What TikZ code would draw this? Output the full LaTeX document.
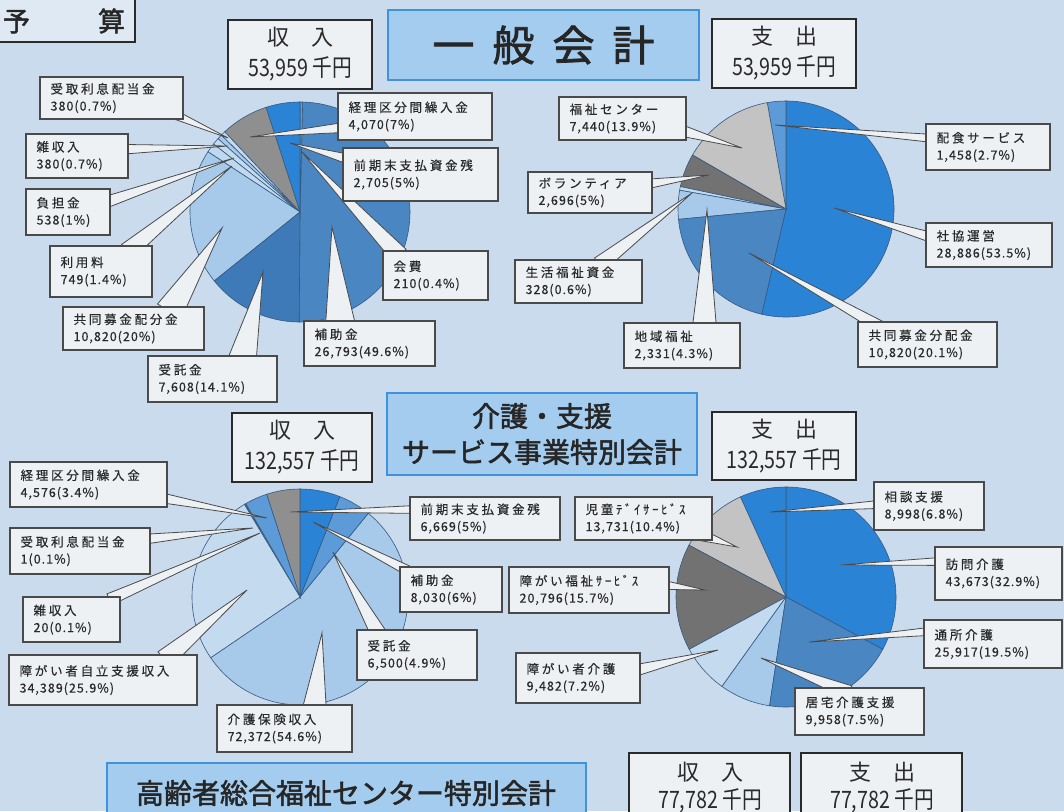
\documentclass[tikz,border=0pt]{standalone}
\usepackage{fontspec}
\setmainfont{Noto Sans CJK JP}
\newfontfamily\jpk[LetterSpace=22,FakeBold=0.4]{Noto Sans CJK JP}
\newfontfamily\jpl[LetterSpace=8,FakeBold=0.4]{Noto Sans CJK JP}
\newfontfamily\jpn[FakeStretch=0.82]{Noto Sans CJK JP}
\newfontfamily\jpb[FakeBold=1.8]{Noto Sans CJK JP}
\usetikzlibrary{calc,fit}
\pgfdeclarelayer{bg}\pgfdeclarelayer{pie}\pgfdeclarelayer{wdg}
\pgfsetlayers{bg,pie,wdg,main}
\definecolor{bgc}{HTML}{C9DBEC}
\definecolor{boxf}{HTML}{EEF1F4}
\definecolor{boxd}{HTML}{4A4A4A}
\definecolor{hdrd}{HTML}{2A2A2A}
\definecolor{ttlf}{HTML}{A3CCEF}
\definecolor{ttld}{HTML}{3F93DC}
\definecolor{bbright}{HTML}{2B83D6}
\definecolor{bsteel}{HTML}{4A86C2}
\definecolor{bdark}{HTML}{3E7AB8}
\definecolor{bmed}{HTML}{5C9BD8}
\definecolor{blight}{HTML}{A7C9EA}
\definecolor{bvlight}{HTML}{C4DAEF}
\definecolor{gmid}{HTML}{8F8F8F}
\definecolor{gdark}{HTML}{727272}
\definecolor{glight}{HTML}{C3C3C3}
\definecolor{sliceline}{HTML}{35597F}
\definecolor{txt}{HTML}{2A2A2A}
\newcommand{\pieslice}[5]{\filldraw[pc,fill=#5] (#1) -- ++(#3:#2pt) arc[start angle=#3,end angle=#4,radius=#2pt] -- cycle;}
\newcommand{\labbox}[7]{%
  \node[lbl,fit={(#2,#3) (#4,#5)}] (#1) {};
  \node[ltxt] (#1t) at ($(#1.west)+(11,0)$) {{\jpk #6}\\{\jpl #7}};}
\newcommand{\pointer}[4]{%
  \coordinate (#1b) at ($(#1.north west)+(#2)$);
  \filldraw[wdgs] ($(#1b)!#4pt!90:(#3)$) -- (#3) -- ($(#1b)!#4pt!-90:(#3)$) -- cycle;}
\newcommand{\hdrbox}[7]{%
  \node[hdr,fit={(#2,#3) (#4,#5)}] (#1) {};
  \node[htxt] (#1t) at (#1.center) {{#6}\\[7pt]{\jpn\fontsize{24}{26}\selectfont #7}};}
\begin{document}
\begin{tikzpicture}[x=1pt,y=-1pt,
  lbl/.style={draw=boxd,fill=boxf,line width=1.2pt,inner sep=0pt},
  ltxt/.style={anchor=west,align=left,inner sep=0pt,text=txt,font=\fontsize{12.5}{17}\selectfont},
  hdr/.style={draw=hdrd,fill=boxf,line width=2pt,inner sep=0pt},
  htxt/.style={align=center,inner sep=0pt,text=txt,font=\fontsize{22}{24}\selectfont},
  ttl/.style={draw=ttld,fill=ttlf,line width=2pt,inner sep=0pt},
  ttxt/.style={align=center,inner sep=0pt,text=black!85},
  wdgs/.style={fill=boxf,draw=boxd,line width=0.8pt},
  pc/.style={draw=sliceline,line width=0.6pt}]
\useasboundingbox (0,0) rectangle (1064,811);
\clip (0,0) rectangle (1064,811);
\begin{pgfonlayer}{bg}
\fill[bgc] (0,0) rectangle (1064,811);
\end{pgfonlayer}
% centres and tips
\coordinate (c1) at (300,212);
\coordinate (c2) at (786,209);
\coordinate (c3) at (300,597);
\coordinate (c4) at (786,597);
\foreach \n/\x/\y in {t1a/228/138,t1b/228/146,t1c/234/158,t1d/232/166,t1e/222/228,t1f/263/272,t1g/332/227,t1h/302/152,t1i/250/137,t1j/290/143,
 t2a/742/148,t2b/775/125,t2c/709/175,t2d/692/193,t2e/707/210,t2f/834/208,t2g/749/253,
 t3a/267/518,t3b/253/528,t3c/260/533,t3d/247/590,t3e/322/633,t3f/333/552,t3g/313/522,t3h/290/512,
 t4a/737/547,t4b/705/590,t4c/718/650,t4d/761/658,t4e/809/642,t4f/840/565,t4g/770/512}
 {\coordinate (\n) at (\x,\y);}
\begin{pgfonlayer}{pie}
% chart 1
\pieslice{c1}{110}{-90.4}{88.6}{bsteel}
\pieslice{c1}{110}{88.6}{90}{bmed}
\pieslice{c1}{110}{90}{108}{bbright}
\pieslice{c1}{110}{108}{133.2}{gmid}
\pieslice{c1}{110}{133.2}{135.7}{bvlight}
\pieslice{c1}{110}{135.7}{138.2}{blight}
\pieslice{c1}{110}{138.2}{141.8}{bvlight}
\pieslice{c1}{110}{141.8}{146.8}{blight!70!white}
\pieslice{c1}{110}{146.8}{218.8}{blight}
\pieslice{c1}{110}{218.8}{269.6}{bdark}
% chart 2
\pieslice{c2}{108}{-103}{90}{bbright}
\pieslice{c2}{108}{90}{100}{bmed}
\pieslice{c2}{108}{100}{150}{glight}
\pieslice{c2}{108}{150}{168}{gdark}
\pieslice{c2}{108}{168}{170}{bvlight}
\pieslice{c2}{108}{170}{185.5}{blight}
\pieslice{c2}{108}{185.5}{257}{bsteel}
% chart 3
\pieslice{c3}{108}{-145.8}{50.8}{blight}
\pieslice{c3}{108}{50.8}{68.4}{bmed}
\pieslice{c3}{108}{68.4}{90}{bbright}
\pieslice{c3}{108}{90}{108}{gmid}
\pieslice{c3}{108}{108}{120.2}{bmed}
\pieslice{c3}{108}{120.2}{120.6}{bvlight}
\pieslice{c3}{108}{120.6}{121}{bvlight}
\pieslice{c3}{108}{121}{214.2}{bvlight}
% chart 4
\pieslice{c4}{110}{-28.4}{90}{bbright}
\pieslice{c4}{110}{90}{114.5}{bbright}
\pieslice{c4}{110}{114.5}{151.9}{glight}
\pieslice{c4}{110}{151.9}{208.4}{gdark}
\pieslice{c4}{110}{208.4}{234.4}{bvlight}
\pieslice{c4}{110}{234.4}{261.4}{blight}
\pieslice{c4}{110}{261.4}{331.6}{bsteel}
\end{pgfonlayer}
% title boxes
\node[hdr,fill=bgc!60!white,fit={(-6,-6) (135,42)}] (yosan) {};
\node[ttxt,font=\jpb\fontsize{27}{30}\selectfont] (yosant) at (64,21) {予\hspace{68pt}算};
\node[ttl,fit={(388,10) (699,80)}] (ttl1) {};
\node[ttxt,font=\jpb\fontsize{42}{44}\selectfont] (ttl1t) at (ttl1.center) {一\hspace{18pt}般\hspace{18pt}会\hspace{18pt}計};
\node[ttl,fit={(387,393) (697,475)}] (ttl2) {};
\node[ttxt,font=\jpb\fontsize{28}{36}\selectfont] (ttl2t) at (ttl2.center) {介護・支援\\サービス事業特別会計};
\node[ttl,fit={(107,763) (586,830)}] (ttl3) {};
\node[ttxt,font=\jpb\fontsize{28}{36}\selectfont] (ttl3t) at (346,793) {高齢者総合福祉センター特別会計};
% header boxes
\hdrbox{h1}{228}{20}{372}{89}{収　入}{53,959 千円}
\hdrbox{h2}{712}{19}{856}{88}{支　出}{53,959 千円}
\hdrbox{h3}{232}{413}{372}{482}{収　入}{132,557 千円}
\hdrbox{h4}{712}{412}{856}{480}{支　出}{132,557 千円}
\node[hdr,fit={(629,753) (790,818)}] (h5) {};
\node[htxt] (h5t) at (710,788) {{収　入}\\[4pt]{\jpn\fontsize{24}{26}\selectfont 77,782 千円}};
\node[hdr,fit={(801,753) (962,818)}] (h6) {};
\node[htxt] (h6t) at (882,788) {{支　出}\\[4pt]{\jpn\fontsize{24}{26}\selectfont 77,782 千円}};
% chart 1 labels
\labbox{k1a}{40}{77}{183}{119}{受取利息配当金}{380(0.7\%)}
\labbox{k1b}{26}{134}{128}{178}{雑収入}{380(0.7\%)}
\labbox{k1c}{26}{189}{110}{235}{負担金}{538(1\%)}
\labbox{k1d}{50}{246}{152}{297}{利用料}{749(1.4\%)}
\labbox{k1e}{63}{307}{204}{350}{共同募金配分金}{10,820(20\%)}
\labbox{k1f}{148}{356}{277}{402}{受託金}{7,608(14.1\%)}
\labbox{k1g}{304}{321}{435}{366}{補助金}{26,793(49.6\%)}
\labbox{k1h}{383}{251}{488}{300}{会費}{210(0.4\%)}
\labbox{k1i}{338}{93}{492}{140}{経理区分間繰入金}{4,070(7\%)}
\labbox{k1j}{343}{148}{498}{201}{前期末支払資金残}{2,705(5\%)}
% chart 2 labels
\labbox{k2a}{559}{97}{686}{140}{福祉センター}{7,440(13.9\%)}
\labbox{k2b}{926}{124}{1050}{170}{配食サービス}{1,458(2.7\%)}
\labbox{k2c}{528}{172}{652}{213}{ボランティア}{2,696(5\%)}
\labbox{k2d}{515}{260}{642}{303}{生活福祉資金}{328(0.6\%)}
\labbox{k2e}{624}{323}{740}{368}{地域福祉}{2,331(4.3\%)}
\labbox{k2f}{926}{223}{1052}{267}{社協運営}{28,886(53.5\%)}
\labbox{k2g}{858}{322}{997}{367}{共同募金分配金}{10,820(20.1\%)}
% chart 3 labels
\labbox{k3a}{10}{462}{167}{507}{経理区分間繰入金}{4,576(3.4\%)}
\labbox{k3b}{10}{528}{150}{574}{受取利息配当金}{1(0.1\%)}
\labbox{k3c}{23}{597}{120}{642}{雑収入}{20(0.1\%)}
\labbox{k3d}{9}{655}{197}{705}{障がい者自立支援収入}{34,389(25.9\%)}
\labbox{k3e}{217}{705}{352}{752}{介護保険収入}{72,372(54.6\%)}
\labbox{k3f}{357}{630}{477}{680}{受託金}{6,500(4.9\%)}
\labbox{k3g}{400}{567}{502}{612}{補助金}{8,030(6\%)}
\labbox{k3h}{410}{497}{560}{540}{前期末支払資金残}{6,669(5\%)}
% chart 4 labels
\labbox{k4a}{575}{497}{712}{540}{児童ﾃﾞｲｻｰﾋﾞｽ}{13,731(10.4\%)}
\labbox{k4b}{509}{567}{669}{613}{障がい福祉ｻｰﾋﾞｽ}{20,796(15.7\%)}
\labbox{k4c}{516}{653}{640}{703}{障がい者介護}{9,482(7.2\%)}
\labbox{k4d}{795}{688}{924}{735}{居宅介護支援}{9,958(7.5\%)}
\labbox{k4e}{924}{620}{1062}{668}{通所介護}{25,917(19.5\%)}
\labbox{k4f}{935}{547}{1062}{600}{訪問介護}{43,673(32.9\%)}
\labbox{k4g}{874}{482}{984}{530}{相談支援}{8,998(6.8\%)}
% pointers
\begin{pgfonlayer}{wdg}
\pointer{k1a}{128,35}{t1a}{5}
\pointer{k1b}{94,16}{t1b}{5}
\pointer{k1c}{74,16}{t1c}{6}
\pointer{k1d}{78,6}{t1d}{9}
\pointer{k1e}{107,5}{t1e}{14}
\pointer{k1f}{95,4}{t1f}{14}
\pointer{k1g}{37,5}{t1g}{15}
\pointer{k1h}{17,5}{t1h}{9}
\pointer{k1i}{7,35}{t1i}{5}
\pointer{k1j}{7,12}{t1j}{5}
\pointer{k2a}{119,33}{t2a}{6}
\pointer{k2b}{7,15}{t2b}{4}
\pointer{k2c}{117,13}{t2c}{5}
\pointer{k2d}{85,5}{t2d}{8}
\pointer{k2e}{81,5}{t2e}{12}
\pointer{k2f}{6,15}{t2f}{5}
\pointer{k2g}{22,5}{t2g}{6}
\pointer{k3a}{150,36}{t3a}{5}
\pointer{k3b}{133,12}{t3b}{5}
\pointer{k3c}{87,3}{t3c}{6}
\pointer{k3d}{156,5}{t3d}{10}
\pointer{k3e}{98,5}{t3e}{12}
\pointer{k3f}{23,6}{t3f}{8}
\pointer{k3g}{10,5}{t3g}{5}
\pointer{k3h}{8,13}{t3h}{4}
\pointer{k4a}{125,38}{t4a}{6}
\pointer{k4b}{151,18}{t4b}{5}
\pointer{k4c}{116,19}{t4c}{6}
\pointer{k4d}{55,5}{t4d}{7}
\pointer{k4e}{6,12}{t4e}{4}
\pointer{k4f}{7,15}{t4f}{4}
\pointer{k4g}{6,23}{t4g}{4}
\end{pgfonlayer}
\end{tikzpicture}
\end{document}
